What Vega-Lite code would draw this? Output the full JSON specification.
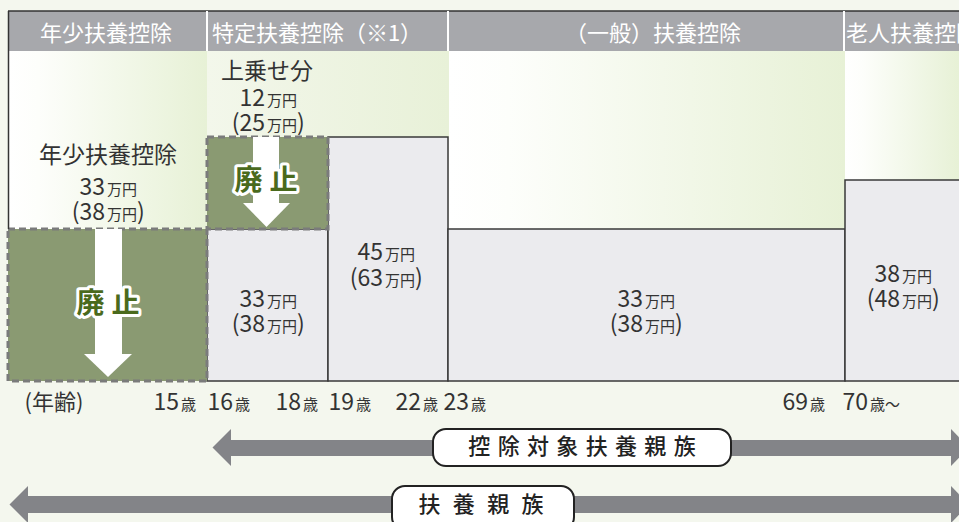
{
  "$schema": "https://vega.github.io/schema/vega-lite/v6.json",
  "width": 959,
  "height": 522,
  "padding": 0,
  "autosize": {"type": "fit", "contains": "padding"},
  "background": "#f4f7ee",
  "config": {"view": {"stroke": null}, "text": {"font": "Noto Sans CJK JP"}},
  "datasets": {
    "header": [{"x": 8, "x2": 965, "y": 11, "y2": 51}],
    "grad": [
      {"col": "年少", "x": 8, "x2": 207, "y": 51, "y2": 229},
      {"col": "一般", "x": 449, "x2": 845, "y": 51, "y2": 229},
      {"col": "老人", "x": 845, "x2": 959, "y": 51, "y2": 180}
    ],
    "grad2": [{"col": "特定上乗せ", "x": 207, "x2": 449, "y": 51, "y2": 137}],
    "boxes": [
      {"ages": "16-18", "x": 207, "x2": 328, "y": 229, "y2": 381},
      {"ages": "19-22", "x": 328, "x2": 448, "y": 137, "y2": 381},
      {"ages": "23-69", "x": 448, "x2": 845, "y": 229, "y2": 381},
      {"ages": "70-", "x": 845, "x2": 966, "y": 180, "y2": 381}
    ],
    "abolished": [
      {"part": "年少扶養控除", "x": 8, "x2": 207, "y": 229, "y2": 381},
      {"part": "上乗せ分", "x": 207, "x2": 328, "y": 137, "y2": 229}
    ],
    "wshaft": [
      {"id": "big", "x": 95, "x2": 122, "y": 229, "y2": 355},
      {"id": "small", "x": 253, "x2": 279, "y": 137, "y2": 204}
    ],
    "whead": [
      {"id": "big", "x": 84, "y": 354, "y2": 354},
      {"id": "big", "x": 108, "y": 377, "y2": 354},
      {"id": "big", "x": 132, "y": 354, "y2": 354},
      {"id": "small", "x": 243, "y": 203, "y2": 203},
      {"id": "small", "x": 266.5, "y": 227, "y2": 203},
      {"id": "small", "x": 290, "y": 203, "y2": 203}
    ],
    "outline": [
      {"x": 8.5, "x2": 8.5, "y": 11, "y2": 229},
      {"x": 8, "x2": 965, "y": 11, "y2": 11}
    ],
    "seps": [
      {"x": 207, "x2": 207, "y": 11, "y2": 51},
      {"x": 448, "x2": 448, "y": 11, "y2": 51},
      {"x": 844, "x2": 844, "y": 11, "y2": 51}
    ],
    "htext": [
      {"x": 106, "y": 34, "t": "年少扶養控除"},
      {"x": 317, "y": 34, "t": "特定扶養控除（※1）"},
      {"x": 653, "y": 34, "t": "（一般）扶養控除"},
      {"x": 912, "y": 34, "t": "老人扶養控除"}
    ],
    "btext": [
      {"x": 267, "y": 72, "t": "上乗せ分"},
      {"x": 108, "y": 156, "t": "年少扶養控除"}
    ],
    "amounts": [
      {"x": 265, "y": 106, "num": "12", "p": false},
      {"x": 265, "y": 131, "num": "(25", "p": true},
      {"x": 105, "y": 195, "num": "33", "p": false},
      {"x": 105, "y": 220, "num": "(38", "p": true},
      {"x": 265, "y": 307, "num": "33", "p": false},
      {"x": 265, "y": 332, "num": "(38", "p": true},
      {"x": 383, "y": 260, "num": "45", "p": false},
      {"x": 383, "y": 286, "num": "(63", "p": true},
      {"x": 643, "y": 307, "num": "33", "p": false},
      {"x": 643, "y": 332, "num": "(38", "p": true},
      {"x": 900, "y": 282, "num": "38", "p": false},
      {"x": 900, "y": 307, "num": "(48", "p": true}
    ],
    "haishi": [
      {"x": 108, "y": 305, "t": "廃\u2005止"},
      {"x": 266, "y": 182, "t": "廃\u2005止"}
    ],
    "ages": [
      {"x": 179, "y": 410, "num": "15", "u": "歳"},
      {"x": 233, "y": 410, "num": "16", "u": "歳"},
      {"x": 301, "y": 410, "num": "18", "u": "歳"},
      {"x": 354, "y": 410, "num": "19", "u": "歳"},
      {"x": 421, "y": 410, "num": "22", "u": "歳"},
      {"x": 469, "y": 410, "num": "23", "u": "歳"},
      {"x": 808, "y": 410, "num": "69", "u": "歳"},
      {"x": 868, "y": 410, "num": "70", "u": "歳〜"}
    ],
    "agelabel": [{"x": 54, "y": 410, "t": "(年齢)"}],
    "gshaft": [
      {"id": "控除対象扶養親族", "x": 230, "x2": 952, "y": 440, "y2": 456},
      {"id": "扶養親族", "x": 27, "x2": 952, "y": 496, "y2": 513}
    ],
    "ghead": [
      {"id": "L1", "y": 429, "x": 231, "x2": 231},
      {"id": "L1", "y": 447.5, "x": 212.5, "x2": 231},
      {"id": "L1", "y": 466, "x": 231, "x2": 231},
      {"id": "R1", "y": 429, "x": 951, "x2": 951},
      {"id": "R1", "y": 447.5, "x": 969, "x2": 951},
      {"id": "R1", "y": 466, "x": 951, "x2": 951},
      {"id": "L2", "y": 486, "x": 28, "x2": 28},
      {"id": "L2", "y": 504.5, "x": 9.5, "x2": 28},
      {"id": "L2", "y": 523, "x": 28, "x2": 28},
      {"id": "R2", "y": 486, "x": 951, "x2": 951},
      {"id": "R2", "y": 504.5, "x": 969, "x2": 951},
      {"id": "R2", "y": 523, "x": 951, "x2": 951}
    ],
    "lbox": [
      {"x": 433, "x2": 731, "y": 429, "y2": 466},
      {"x": 392, "x2": 574, "y": 486, "y2": 530}
    ],
    "ltext": [
      {"x": 582, "y": 447, "t": "控\u2004除\u2004対\u2004象\u2004扶\u2004養\u2004親\u2004族"},
      {"x": 481, "y": 505, "t": "扶\u2002\u200a養\u2002\u200a親\u2002\u200a族"}
    ]
  },
  "layer": [
    {
      "data": {"name": "header"},
      "mark": {"type": "rect", "fill": "#a7a8ac", "clip": true},
      "encoding": {
        "x": {"field": "x", "type": "quantitative", "scale": {"domain": [0, 959], "nice": false, "zero": false}, "axis": null},
        "x2": {"field": "x2"},
        "y": {"field": "y", "type": "quantitative", "scale": {"domain": [0, 522], "reverse": true, "nice": false, "zero": false}, "axis": null},
        "y2": {"field": "y2"}
      }
    },
    {
      "data": {"name": "grad"},
      "mark": {"type": "rect", "clip": true, "fill": {"gradient": "linear", "x1": 0, "y1": 0, "x2": 1, "y2": 0, "stops": [{"offset": 0, "color": "#ffffff"}, {"offset": 0.15, "color": "#fdfefb"}, {"offset": 1, "color": "#e7f1d6"}]}},
      "encoding": {
        "x": {"field": "x", "type": "quantitative", "axis": null},
        "x2": {"field": "x2"},
        "y": {"field": "y", "type": "quantitative", "axis": null},
        "y2": {"field": "y2"}
      }
    },
    {
      "data": {"name": "grad2"},
      "mark": {"type": "rect", "fill": {"gradient": "linear", "x1": 0, "y1": 0, "x2": 1, "y2": 0, "stops": [{"offset": 0, "color": "#f3f7eb"}, {"offset": 1, "color": "#e8f1d8"}]}},
      "encoding": {
        "x": {"field": "x", "type": "quantitative", "axis": null},
        "x2": {"field": "x2"},
        "y": {"field": "y", "type": "quantitative", "axis": null},
        "y2": {"field": "y2"}
      }
    },
    {
      "data": {"name": "boxes"},
      "mark": {"type": "rect", "fill": "#ebebee", "stroke": "#3a3a3a", "strokeWidth": 1.5, "clip": true},
      "encoding": {
        "x": {"field": "x", "type": "quantitative", "axis": null},
        "x2": {"field": "x2"},
        "y": {"field": "y", "type": "quantitative", "axis": null},
        "y2": {"field": "y2"}
      }
    },
    {
      "data": {"name": "abolished"},
      "mark": {"type": "rect", "fill": "#8a9a72", "stroke": "#7a7b7b", "strokeWidth": 3, "strokeDash": [7, 4]},
      "encoding": {
        "x": {"field": "x", "type": "quantitative", "axis": null},
        "x2": {"field": "x2"},
        "y": {"field": "y", "type": "quantitative", "axis": null},
        "y2": {"field": "y2"}
      }
    },
    {
      "data": {"name": "wshaft"},
      "mark": {"type": "rect", "fill": "#ffffff"},
      "encoding": {
        "x": {"field": "x", "type": "quantitative", "axis": null},
        "x2": {"field": "x2"},
        "y": {"field": "y", "type": "quantitative", "axis": null},
        "y2": {"field": "y2"}
      }
    },
    {
      "data": {"name": "whead"},
      "mark": {"type": "area", "fill": "#ffffff", "orient": "vertical"},
      "encoding": {
        "x": {"field": "x", "type": "quantitative", "axis": null},
        "y": {"field": "y", "type": "quantitative", "axis": null, "stack": null},
        "y2": {"field": "y2"},
        "detail": {"field": "id"}
      }
    },
    {
      "data": {"name": "outline"},
      "mark": {"type": "rule", "stroke": "#333333", "strokeWidth": 1.5, "clip": true},
      "encoding": {
        "x": {"field": "x", "type": "quantitative", "axis": null},
        "x2": {"field": "x2"},
        "y": {"field": "y", "type": "quantitative", "axis": null},
        "y2": {"field": "y2"}
      }
    },
    {
      "data": {"name": "seps"},
      "mark": {"type": "rule", "stroke": "#ffffff", "strokeWidth": 2},
      "encoding": {
        "x": {"field": "x", "type": "quantitative", "axis": null},
        "x2": {"field": "x2"},
        "y": {"field": "y", "type": "quantitative", "axis": null},
        "y2": {"field": "y2"}
      }
    },
    {
      "data": {"name": "htext"},
      "mark": {"type": "text", "fill": "#ffffff", "fontSize": 22, "align": "center", "baseline": "middle", "clip": true},
      "encoding": {
        "x": {"field": "x", "type": "quantitative", "axis": null},
        "y": {"field": "y", "type": "quantitative", "axis": null},
        "text": {"field": "t"}
      }
    },
    {
      "data": {"name": "btext"},
      "mark": {"type": "text", "fill": "#333333", "fontSize": 23, "align": "center", "baseline": "middle"},
      "encoding": {
        "x": {"field": "x", "type": "quantitative", "axis": null},
        "y": {"field": "y", "type": "quantitative", "axis": null},
        "text": {"field": "t"}
      }
    },
    {
      "data": {"name": "amounts"},
      "mark": {"type": "text", "fill": "#333333", "fontSize": 23, "align": "right", "baseline": "alphabetic"},
      "encoding": {
        "x": {"field": "x", "type": "quantitative", "axis": null},
        "y": {"field": "y", "type": "quantitative", "axis": null},
        "text": {"field": "num"}
      }
    },
    {
      "data": {"name": "amounts"},
      "mark": {"type": "text", "fill": "#333333", "fontSize": 15, "align": "left", "baseline": "alphabetic", "dx": 2, "text": "万円"},
      "encoding": {
        "x": {"field": "x", "type": "quantitative", "axis": null},
        "y": {"field": "y", "type": "quantitative", "axis": null}
      }
    },
    {
      "data": {"name": "amounts"},
      "transform": [{"filter": "datum.p"}],
      "mark": {"type": "text", "fill": "#333333", "fontSize": 23, "align": "left", "baseline": "alphabetic", "dx": 32, "text": ")"},
      "encoding": {
        "x": {"field": "x", "type": "quantitative", "axis": null},
        "y": {"field": "y", "type": "quantitative", "axis": null}
      }
    },
    {
      "data": {"name": "haishi"},
      "mark": {"type": "text", "fill": "#ffffff", "stroke": "#ffffff", "strokeWidth": 6, "strokeJoin": "round", "fontSize": 28, "fontWeight": "bold", "align": "center", "baseline": "middle"},
      "encoding": {
        "x": {"field": "x", "type": "quantitative", "axis": null},
        "y": {"field": "y", "type": "quantitative", "axis": null},
        "text": {"field": "t"}
      }
    },
    {
      "data": {"name": "haishi"},
      "mark": {"type": "text", "fill": "#4a6a1d", "fontSize": 28, "fontWeight": "bold", "align": "center", "baseline": "middle"},
      "encoding": {
        "x": {"field": "x", "type": "quantitative", "axis": null},
        "y": {"field": "y", "type": "quantitative", "axis": null},
        "text": {"field": "t"}
      }
    },
    {
      "data": {"name": "ages"},
      "mark": {"type": "text", "fill": "#333333", "fontSize": 23, "align": "right", "baseline": "alphabetic"},
      "encoding": {
        "x": {"field": "x", "type": "quantitative", "axis": null},
        "y": {"field": "y", "type": "quantitative", "axis": null},
        "text": {"field": "num"}
      }
    },
    {
      "data": {"name": "ages"},
      "mark": {"type": "text", "fill": "#333333", "fontSize": 15, "align": "left", "baseline": "alphabetic", "dx": 2},
      "encoding": {
        "x": {"field": "x", "type": "quantitative", "axis": null},
        "y": {"field": "y", "type": "quantitative", "axis": null},
        "text": {"field": "u"}
      }
    },
    {
      "data": {"name": "agelabel"},
      "mark": {"type": "text", "fill": "#333333", "fontSize": 22, "align": "center", "baseline": "alphabetic"},
      "encoding": {
        "x": {"field": "x", "type": "quantitative", "axis": null},
        "y": {"field": "y", "type": "quantitative", "axis": null},
        "text": {"field": "t"}
      }
    },
    {
      "data": {"name": "gshaft"},
      "mark": {"type": "rect", "fill": "#838488"},
      "encoding": {
        "x": {"field": "x", "type": "quantitative", "axis": null},
        "x2": {"field": "x2"},
        "y": {"field": "y", "type": "quantitative", "axis": null},
        "y2": {"field": "y2"}
      }
    },
    {
      "data": {"name": "ghead"},
      "mark": {"type": "area", "fill": "#838488", "orient": "horizontal", "clip": true},
      "encoding": {
        "y": {"field": "y", "type": "quantitative", "axis": null},
        "x": {"field": "x", "type": "quantitative", "axis": null, "stack": null},
        "x2": {"field": "x2"},
        "detail": {"field": "id"}
      }
    },
    {
      "data": {"name": "lbox"},
      "mark": {"type": "rect", "fill": "#ffffff", "stroke": "#222222", "strokeWidth": 2, "cornerRadius": 13, "clip": true},
      "encoding": {
        "x": {"field": "x", "type": "quantitative", "axis": null},
        "x2": {"field": "x2"},
        "y": {"field": "y", "type": "quantitative", "axis": null},
        "y2": {"field": "y2"}
      }
    },
    {
      "data": {"name": "ltext"},
      "mark": {"type": "text", "fill": "#222222", "fontSize": 22, "fontWeight": 500, "align": "center", "baseline": "middle"},
      "encoding": {
        "x": {"field": "x", "type": "quantitative", "axis": null},
        "y": {"field": "y", "type": "quantitative", "axis": null},
        "text": {"field": "t"}
      }
    }
  ]
}
